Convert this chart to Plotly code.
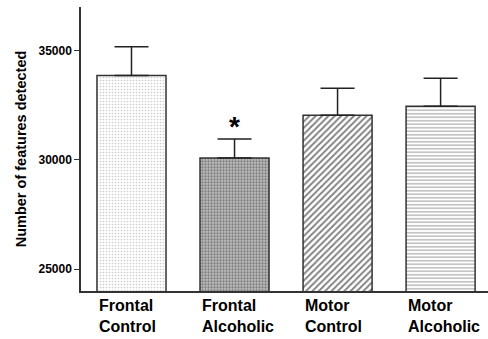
import plotly.graph_objects as go

categories = ["Frontal Control", "Frontal Alcoholic", "Motor Control", "Motor Alcoholic"]
label_lines = [["Frontal", "Control"], ["Frontal", "Alcoholic"], ["Motor", "Control"], ["Motor", "Alcoholic"]]
means = [33860, 30090, 32050, 32460]
errors = [1320, 870, 1230, 1280]
y_ticks = [25000, 30000, 35000]

FONT = "Liberation Sans, Arial, sans-serif"

patterns = [
    dict(shape=".", size=3, solidity=0.25, fgcolor="#9a9a9a", bgcolor="white", fillmode="overlay"),
    dict(shape=".", size=3, solidity=0.45, fgcolor="#404040", bgcolor="#bdbdbd", fillmode="overlay"),
    dict(shape="/", size=4.5, solidity=0.4, fgcolor="black", bgcolor="white", fillmode="overlay"),
    dict(shape="-", size=3.5, solidity=0.35, fgcolor="#555555", bgcolor="white", fillmode="overlay"),
]

fig = go.Figure()
for i, c in enumerate(categories):
    fig.add_trace(go.Bar(
        x=[i], y=[means[i]], base=0, width=0.67,
        marker=dict(color="white", line=dict(color="#333333", width=1.5), pattern=patterns[i]),
        error_y=dict(type="data", array=[errors[i]], arrayminus=[0], symmetric=False,
                     color="#222222", thickness=1.5, width=17),
        showlegend=False, hoverinfo="skip",
    ))

for i, lines in enumerate(label_lines):
    fig.add_annotation(x=i - 0.335, y=-0.03, yshift=5, xref="x", yref="paper", xanchor="left", yanchor="top",
                       text="<b>" + "<br>".join(lines) + "</b>", showarrow=False, align="left",
                       font=dict(family=FONT, size=16, color="black"))

fig.add_annotation(x=1, y=means[1] + errors[1], yshift=-5, xref="x", yref="y", text="<b>*</b>",
                   showarrow=False, yanchor="bottom", font=dict(family=FONT, size=28, color="black"))

fig.update_layout(
    width=488, height=339,
    margin=dict(l=81, r=0, t=7, b=48),
    plot_bgcolor="white", paper_bgcolor="white",
    font=dict(family=FONT, color="black"),
    xaxis=dict(range=[-0.49, 3.46], showticklabels=False, ticks="", showline=True,
               linecolor="#333333", linewidth=1.5, showgrid=False, zeroline=False),
    yaxis=dict(range=[24000, 37000], tickvals=y_ticks, ticktext=[f"<b>{v}</b>" for v in y_ticks],
               ticks="outside", ticklen=5, tickwidth=1.2, tickcolor="#333333",
               showline=True, linecolor="#333333", linewidth=1.5, showgrid=False, zeroline=False,
               tickfont=dict(size=12), automargin=False,
               title=dict(text="<b>Number of features detected</b>", font=dict(size=14.5), standoff=8)),
)
fig.write_html("out.html", config={"displayModeBar": False},
               post_script="document.body.style.margin='0';")
